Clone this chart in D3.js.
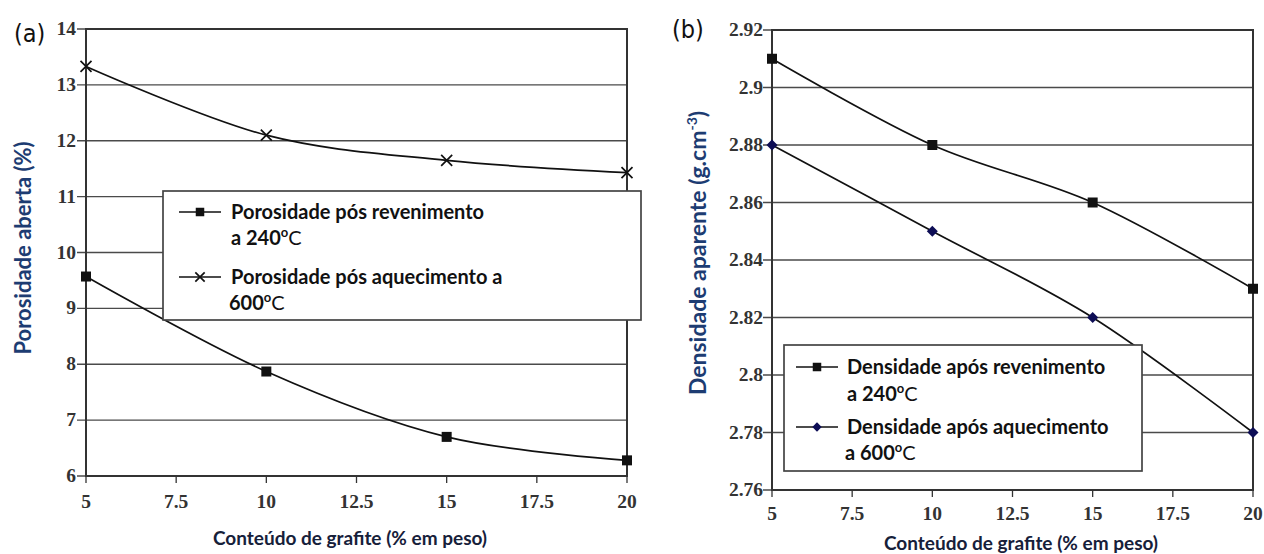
<!DOCTYPE html>
<html>
<head>
<meta charset="utf-8">
<script src="https://cdn.jsdelivr.net/npm/d3@7"></script>
<style>
  body { margin: 0; background: #fff; }
  svg { display: block; }
  .tick-lbl { font-family: "Liberation Serif", serif; font-weight: bold; font-size: 19.5px; fill: #333; }
  .ttl { font-family: Lato, "Open Sans", sans-serif; font-weight: bold; }
  .leg { font-family: Lato, "Open Sans", sans-serif; font-weight: bold; font-size: 20px; fill: #111; }
  .panel-lbl { font-family: "Liberation Sans Narrow", "DejaVu Sans Condensed", sans-serif; font-size: 25px; fill: #111; }
</style>
</head>
<body>
<svg id="chart" width="1264" height="554"></svg>
<script>
// data
let xVals = [5, 10, 15, 20]
let poroRevenimento = [9.57, 7.87, 6.7, 6.28]
let poroAquecimento = [13.33, 12.1, 11.65, 11.43]
let densRevenimento = [2.91, 2.88, 2.86, 2.83]
let densAquecimento = [2.88, 2.85, 2.82, 2.78]

let xTicks = [5, 7.5, 10, 12.5, 15, 17.5, 20]
let poroTicks = [6, 7, 8, 9, 10, 11, 12, 13, 14]
let densTicks = [2.76, 2.78, 2.8, 2.82, 2.84, 2.86, 2.88, 2.9, 2.92]

let svg = d3.select('#chart')

let line = d3.line().curve(d3.curveCardinal.tension(0))

function zip(xs, ys) { return xs.map((x, i) => [x, ys[i]]) }

function drawPanel(p) {
    let x = d3.scaleLinear().domain([5, 20]).range([p.left, p.right])
    let y = d3.scaleLinear().domain(p.yDomain).range([p.bottom, p.top])
    let g = svg.append('g')

    // horizontal grid + ticks
    g.append('g').selectAll('line').data(p.yTicks).enter().append('line')
        .attr('x1', p.left - 9).attr('x2', p.right)
        .attr('y1', d => y(d)).attr('y2', d => y(d))
        .attr('stroke', '#4a4a4a').attr('stroke-width', 1.3)

    // y axis labels
    g.append('g').selectAll('text').data(p.yTicks).enter().append('text')
        .attr('class', 'tick-lbl')
        .attr('x', p.left - p.yLblOff).attr('y', d => y(d) + 6)
        .attr('text-anchor', 'end')
        .text(d => d)

    // x ticks
    g.append('g').selectAll('line').data(xTicks).enter().append('line')
        .attr('x1', d => x(d)).attr('x2', d => x(d))
        .attr('y1', p.bottom).attr('y2', p.bottom + 7)
        .attr('stroke', '#333').attr('stroke-width', 1.3)
    g.append('g').selectAll('text').data(xTicks).enter().append('text')
        .attr('class', 'tick-lbl')
        .attr('x', d => x(d)).attr('y', p.bottom + p.xLblOff)
        .attr('text-anchor', 'middle')
        .text(d => d)

    // frame
    g.append('rect')
        .attr('x', p.left).attr('y', p.top)
        .attr('width', p.right - p.left).attr('height', p.bottom - p.top)
        .attr('fill', 'none').attr('stroke', '#333').attr('stroke-width', 2)

    // series
    p.series.forEach(s => {
        let pts = zip(xVals, s.values).map(d => [x(d[0]), y(d[1])])
        g.append('path').attr('d', line(pts))
            .attr('fill', 'none').attr('stroke', '#111').attr('stroke-width', 1.7)
        pts.forEach(d => drawMarker(g, s.marker, d[0], d[1]))
    })

    // legend
    let L = p.legend
    g.append('rect')
        .attr('x', L.x).attr('y', L.y).attr('width', L.w).attr('height', L.h)
        .attr('fill', '#fff').attr('stroke', '#444').attr('stroke-width', 1.7)
    p.series.forEach((s, i) => {
        let ly = L.rows[i * 2]
        g.append('line')
            .attr('x1', L.symX - 21).attr('x2', L.symX + 21)
            .attr('y1', ly).attr('y2', ly)
            .attr('stroke', '#111').attr('stroke-width', 1.7)
        drawMarker(g, s.marker, L.symX, ly, 0.85)
        g.append('text').attr('class', 'leg')
            .attr('x', L.textX).attr('y', ly + 7)
            .text(s.label1)
        let t2 = g.append('text').attr('class', 'leg')
            .attr('x', L.textX - (s.indent2 || 0)).attr('y', L.rows[i * 2 + 1] + 7)
        t2.append('tspan').text(s.label2)
        t2.append('tspan').attr('font-size', 13).attr('dy', -8).text('o')
        t2.append('tspan').attr('dy', 8).attr('font-weight', 'normal').text('C')
    })

    // x title
    g.append('text').attr('class', 'ttl')
        .attr('x', p.xTitle[0]).attr('y', p.xTitle[1])
        .attr('text-anchor', 'middle').attr('font-size', 19).attr('fill', '#16203a')
        .text('Conteúdo de grafite (% em peso)')

    // y title
    let yt = g.append('text').attr('class', 'ttl')
        .attr('transform', `translate(${p.yTitle[0]}, ${p.yTitle[1]}) rotate(-90)`)
        .attr('text-anchor', 'middle').attr('font-size', p.yTitleSize).attr('fill', '#1d3c72')
    yt.append('tspan').text(p.yLabel)
    if (p.ySup) {
        yt.append('tspan').attr('font-size', 14).attr('dy', -9).text(p.ySup)
        yt.append('tspan').attr('dy', 9).text(')')
    }

    g.append('text').attr('class', 'panel-lbl')
        .attr('x', p.tag[0]).attr('y', p.tag[1]).text(p.tagText)
}

function drawMarker(g, type, cx, cy, k) {
    k = k || 1
    if (type == 'square') {
        let s = 10 * k
        g.append('rect').attr('x', cx - s / 2).attr('y', cy - s / 2)
            .attr('width', s).attr('height', s).attr('fill', '#111')
    } else if (type == 'cross') {
        let s = 5.5 * k
        g.append('path')
            .attr('d', `M${cx - s},${cy - s}L${cx + s},${cy + s}M${cx - s},${cy + s}L${cx + s},${cy - s}`)
            .attr('stroke', '#111').attr('stroke-width', 1.7)
    } else {
        let s = 5.5 * k
        g.append('path')
            .attr('d', `M${cx},${cy - s}L${cx + s},${cy}L${cx},${cy + s}L${cx - s},${cy}Z`)
            .attr('fill', '#0d0d55')
    }
}

drawPanel({
    left: 86, right: 627, top: 29, bottom: 476,
    yDomain: [6, 14], yTicks: poroTicks, xLblOff: 32, yLblOff: 10,
    series: [
        {values: poroRevenimento, marker: 'square', label1: 'Porosidade pós revenimento', label2: 'a 240'},
        {values: poroAquecimento, marker: 'cross', label1: 'Porosidade pós aquecimento a', label2: '600', indent2: 2}
    ],
    legend: {x: 163, y: 191, w: 478, h: 129, symX: 200, textX: 231, rows: [212, 238, 277, 303]},
    xTitle: [350, 545], yTitle: [31, 248], yTitleSize: 22, yLabel: 'Porosidade aberta (%)',
    tag: [14, 42], tagText: '(a)'
})

drawPanel({
    left: 772, right: 1253, top: 30, bottom: 490,
    yDomain: [2.76, 2.92], yTicks: densTicks, xLblOff: 30, yLblOff: 9,
    series: [
        {values: densRevenimento, marker: 'square', label1: 'Densidade após revenimento', label2: 'a 240'},
        {values: densAquecimento, marker: 'diamond', label1: 'Densidade após aquecimento', label2: 'a 600', indent2: 2}
    ],
    legend: {x: 784, y: 345, w: 358, h: 126, symX: 817, textX: 847, rows: [367, 394, 427, 453]},
    xTitle: [1021, 550], yTitle: [706, 253], yTitleSize: 23, yLabel: 'Densidade aparente (g.cm', ySup: '-3',
    tag: [672, 38], tagText: '(b)'
})
</script>
</body>
</html>
